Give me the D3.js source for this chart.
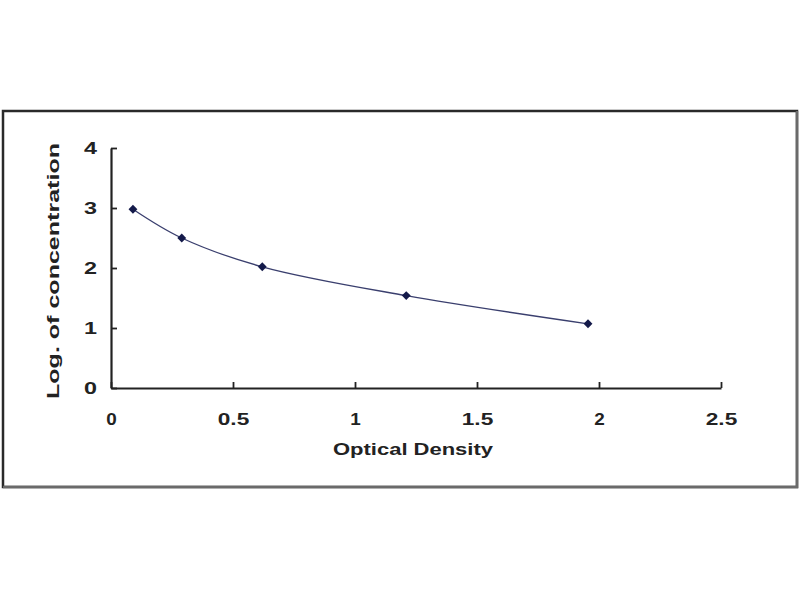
<!DOCTYPE html>
<html>
<head>
<meta charset="utf-8">
<script src="https://cdn.jsdelivr.net/npm/d3@7"></script>
<style>
  html, body { margin: 0; padding: 0; background: #fff; }
  svg { display: block; }
  text { font-family: "Liberation Sans", Arial, sans-serif; font-weight: bold; fill: #222; }
</style>
</head>
<body>
<svg id="chart" width="800" height="600"></svg>
<script>
// Data
const opticalDensity = [0.09, 0.29, 0.62, 1.21, 1.955];
const logConcentration = [2.98, 2.5, 2.02, 1.54, 1.07];
const xTicks = [0, 0.5, 1, 1.5, 2, 2.5];
const yTicks = [0, 1, 2, 3, 4];
const xTitle = "Optical Density";
const yTitle = "Log. of concentration";

const svg = d3.select("#chart");

// outer frame
svg.append("rect")
  .attr("x", 3).attr("y", 111).attr("width", 794).attr("height", 376)
  .attr("fill", "#fff").attr("stroke", "#2a2a2a").attr("stroke-width", 2.5);
svg.append("path")
  .attr("d", "M797,111 V487 H3")
  .attr("fill", "none").attr("stroke", "#6a6a6a").attr("stroke-width", 2.5);

const x = d3.scaleLinear().domain([0, 2.5]).range([111, 721]);
const y = d3.scaleLinear().domain([0, 4]).range([388, 148]);

// axes
const xAxis = d3.axisBottom(x).tickValues(xTicks).tickSizeInner(-6).tickSizeOuter(0).tickFormat(d3.format("~g")).tickPadding(25);
const yAxis = d3.axisLeft(y).tickValues(yTicks).tickSizeInner(-6).tickSizeOuter(0).tickFormat(d3.format("d")).tickPadding(14);

const gx = svg.append("g").attr("transform", "translate(0,388)").call(xAxis);
const gy = svg.append("g").attr("transform", "translate(111,0)").call(yAxis);

[gx, gy].forEach(g => {
  g.select(".domain").attr("stroke", "#222").attr("stroke-width", 2.2);
  g.selectAll(".tick line").attr("stroke", "#222").attr("stroke-width", 1.8);
  g.selectAll(".tick text").attr("font-size", 17).attr("font-weight", "bold")
    .attr("font-family", "Liberation Sans, Arial, sans-serif").attr("fill", "#222");
});
gx.selectAll(".tick text").attr("textLength", d => String(d3.format("~g")(d)).length * 10.5)
  .attr("lengthAdjust", "spacingAndGlyphs");
gy.selectAll(".tick text").attr("textLength", 13).attr("lengthAdjust", "spacingAndGlyphs");

// axis titles
svg.append("text")
  .attr("x", 413).attr("y", 455)
  .attr("text-anchor", "middle")
  .attr("font-size", 16)
  .attr("textLength", 160).attr("lengthAdjust", "spacingAndGlyphs")
  .text(xTitle);

svg.append("text")
  .attr("transform", "translate(59,271) rotate(-90)")
  .attr("text-anchor", "middle")
  .attr("font-size", 17)
  .attr("textLength", 256).attr("lengthAdjust", "spacingAndGlyphs")
  .text(yTitle);

// curve
const pts = opticalDensity.map((d, i) => [d, logConcentration[i]]);
const line = d3.line().x(d => x(d[0])).y(d => y(d[1])).curve(d3.curveCatmullRom.alpha(0.5));
svg.append("path")
  .attr("d", line(pts))
  .attr("fill", "none")
  .attr("stroke", "#3a3f6e")
  .attr("stroke-width", 1.3);

// markers
svg.selectAll(".pt").data(pts).enter().append("path")
  .attr("class", "pt")
  .attr("transform", d => `translate(${x(d[0])},${y(d[1])})`)
  .attr("d", d3.symbol().type(d3.symbolDiamond2).size(50))
  .attr("fill", "#141a4a");
</script>
</body>
</html>
